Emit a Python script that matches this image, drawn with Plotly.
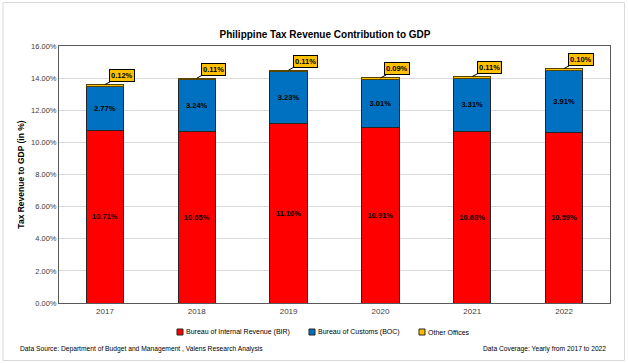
import plotly.graph_objects as go

years = ["2017", "2018", "2019", "2020", "2021", "2022"]
bir = [10.71, 10.65, 11.16, 10.91, 10.68, 10.59]
boc = [2.77, 3.24, 3.23, 3.01, 3.31, 3.91]
other = [0.12, 0.11, 0.11, 0.09, 0.11, 0.10]
y_ticks = [0, 2, 4, 6, 8, 10, 12, 14, 16]

names = ["Bureau of Internal Revenue (BIR)", "Bureau of Customs (BOC)", "Other Offices"]
colors = ["#FF0000", "#0070C0", "#FFC000"]

FONT = "Liberation Sans, Arial, sans-serif"
W, H = 628, 363
ML, MR, MT, MB = 59, 18, 46, 60
PW, PH = W - ML - MR, H - MT - MB


def px(x):
    return (x - ML) / PW


def py(y):
    return (H - MB - y) / PH


line = dict(color="#262626", width=1)
lab_font = dict(family=FONT, size=7.5, color="black", weight="bold")

fig = go.Figure()
fig.add_bar(x=years, y=bir, name=names[0], showlegend=False,
            marker=dict(color=colors[0], line=line),
            text=[f"{v:.2f}%" for v in bir], textposition="inside",
            insidetextanchor="middle", textfont=lab_font)
fig.add_bar(x=years, y=boc, name=names[1], showlegend=False,
            marker=dict(color=colors[1], line=line),
            text=[f"{v:.2f}%" for v in boc], textposition="inside",
            insidetextanchor="middle", textfont=lab_font)
fig.add_bar(x=years, y=other, name=names[2], showlegend=False,
            marker=dict(color=colors[2], line=dict(color="#5a4500", width=1)))

totals = [a + b + c for a, b, c in zip(bir, boc, other)]
for i, (t, o) in enumerate(zip(totals, other)):
    fig.add_annotation(x=i, y=t, text=f"{o:.2f}%", showarrow=True,
                       arrowhead=0, arrowwidth=1, arrowcolor="black",
                       ax=17, ay=-9, bgcolor="#FFC000", bordercolor="black",
                       borderwidth=1, borderpad=1, font=lab_font)

# compact legend: small bordered squares + labels
leg_x = [180, 312, 422]
leg_y = 332
for n, c, lx in zip(names, colors, leg_x):
    fig.add_shape(type="rect", xref="paper", yref="paper",
                  x0=px(lx - 3), x1=px(lx + 3), y0=py(leg_y + 3), y1=py(leg_y - 3),
                  fillcolor=c, line=dict(color="#262626", width=1))
    fig.add_annotation(xref="paper", yref="paper", x=px(lx + 4), y=py(leg_y),
                       xanchor="left", yanchor="middle", showarrow=False,
                       text=n, font=dict(family=FONT, size=7, color="black"))

fig.add_annotation(xref="paper", yref="paper", x=px(18), y=py(349),
                   xanchor="left", yanchor="middle", showarrow=False,
                   text="Data Source: Department of Budget and Management , Valens Research Analysis",
                   font=dict(family=FONT, size=6.7, color="black"))
fig.add_annotation(xref="paper", yref="paper", x=px(608), y=py(349),
                   xanchor="right", yanchor="middle", showarrow=False,
                   text="Data Coverage: Yearly from 2017 to 2022",
                   font=dict(family=FONT, size=6.7, color="black"))

fig.add_shape(type="rect", xref="paper", yref="paper",
              x0=px(3), x1=px(624.5), y0=py(360.5), y1=py(2.5),
              line=dict(color="#D9D9D9", width=1), layer="below")

fig.update_layout(
    width=W, height=H,
    barmode="stack", bargap=0.595,
    paper_bgcolor="white", plot_bgcolor="white",
    margin=dict(l=ML, r=MR, t=MT, b=MB),
    font=dict(family=FONT, size=8, color="#404040"),
    title=dict(text="<b>Philippine Tax Revenue Contribution to GDP</b>",
               xref="paper", x=px(325), xanchor="center",
               y=1 - 34 / H, yanchor="middle",
               font=dict(family=FONT, size=10, color="black")),
    showlegend=False,
    xaxis=dict(type="category", range=[-0.5, 5.5], showline=True,
               linecolor="#595959", linewidth=1, mirror=True,
               tickfont=dict(family=FONT, size=8, color="#404040"), ticks=""),
    yaxis=dict(range=[0, 16], tickvals=y_ticks,
               ticktext=[f"{v:.2f}%" for v in y_ticks],
               showgrid=True, gridcolor="#D9D9D9", gridwidth=1,
               showline=True, linecolor="#595959", linewidth=1, mirror=True,
               zeroline=False,
               tickfont=dict(family=FONT, size=7.5, color="#404040"),
               title=dict(text="<b>Tax Revenue to GDP (in %)</b>", standoff=5,
                          font=dict(family=FONT, size=8.5, color="black"))),
)

fig.write_html("out.html", config={"displayModeBar": False},
               post_script="document.body.style.margin='0';")
